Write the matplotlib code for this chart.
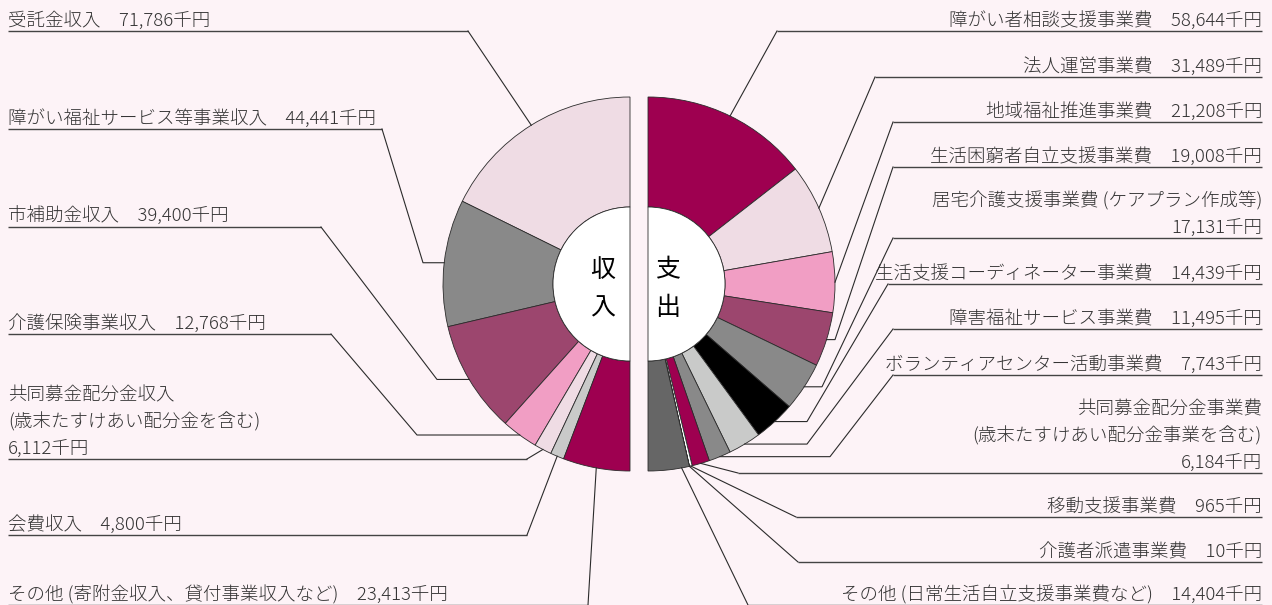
import matplotlib
matplotlib.use('Agg')
import matplotlib.pyplot as plt
from matplotlib.patches import Wedge
import numpy as np

plt.rcParams['font.family'] = ['Noto Sans CJK JP', 'DejaVu Sans']

# --- data (千円) ---
in_names = ['受託金収入', '障がい福祉サービス等事業収入', '市補助金収入', '介護保険事業収入',
            '共同募金配分金収入\n(歳末たすけあい配分金を含む)', '会費収入',
            'その他 (寄附金収入、貸付事業収入など)']
in_values = [71786, 44441, 39400, 12768, 6112, 4800, 23413]

out_names = ['障がい者相談支援事業費', '法人運営事業費', '地域福祉推進事業費',
             '生活困窮者自立支援事業費', '居宅介護支援事業費 (ケアプラン作成等)',
             '生活支援コーディネーター事業費', '障害福祉サービス事業費',
             'ボランティアセンター活動事業費',
             '共同募金配分金事業費\n(歳末たすけあい配分金事業を含む)',
             '移動支援事業費', '介護者派遣事業費', 'その他 (日常生活自立支援事業費など)']
out_values = [58644, 31489, 21208, 19008, 17131, 14439, 11495, 7743, 6184, 965, 10, 14404]

# --- style ---
BG = '#fdf3f7'
CRIMSON = '#9e0050'
LPINK = '#efdce4'
PINK = '#f19ec4'
MAUVE = '#9c466e'
GRAY = '#898989'
LGRAY = '#c9cac9'
DGRAY = '#666666'
in_colors = [LPINK, GRAY, MAUVE, PINK, LPINK, LGRAY, CRIMSON]
out_colors = [CRIMSON, LPINK, PINK, MAUVE, GRAY, 'black', LGRAY, GRAY, CRIMSON,
              'white', 'white', DGRAY]
TXT = '#333333'
LINE = '#2b2b2b'
R_OUT, R_IN = 187, 77
C_IN = (630, 284)
C_OUT = (648, 284)
LH = 27  # line height of labels in px

# layout: (underline y, x where underline meets leader, elbow x or None)
in_layout = [(31, 468, None), (129, 382, 423), (227, 321, 437), (334, 331, 417),
             (459, 527, None), (535, 527, None), (605, 588, None)]
in_wrap = [False, False, False, False, True, False, False]
out_layout = [(31, 777, None), (77, 875, None), (122, 893, None), (167, 893, 835),
              (238, 893, 822), (284, 888, 807), (329, 893, 807), (375, 893, 830),
              (473, 738, None), (517, 796, None), (562, 798, None), (605, 748, None)]
out_wrap = [False, False, False, False, True, False, False, False, True, False, False, False]
out_frac = [0.5] * 11 + [0.19]

fig = plt.figure(figsize=(12.72, 6.05), dpi=100, facecolor=BG)
ax = fig.add_axes([0, 0, 1, 1])
ax.set_facecolor(BG)


def half_donut(values, colors, center, counterclock):
    total = sum(values)
    wedges, _ = ax.pie(values + [total], colors=colors + ['none'], startangle=-90,
                       counterclock=counterclock, center=center, radius=R_OUT,
                       wedgeprops=dict(width=R_OUT - R_IN, edgecolor=LINE, linewidth=0.6))
    wedges[-1].set_visible(False)
    return wedges[:-1]


w_in = half_donut(in_values, in_colors, C_IN, False)
w_out = half_donut(out_values, out_colors, C_OUT, True)

ax.add_patch(Wedge(C_IN, R_IN, 90, 270, facecolor='white', edgecolor=LINE, lw=0.6))
ax.add_patch(Wedge(C_OUT, R_IN, -90, 90, facecolor='white', edgecolor=LINE, lw=0.6))

for s, x, y in [('収', 603, 270), ('入', 603, 308), ('支', 668, 270), ('出', 668, 308)]:
    ax.text(x, y, s, fontsize=18, ha='center', va='center', color='black')


def anchor(w, frac=0.5):
    a = np.deg2rad(w.theta1 + frac * (w.theta2 - w.theta1))
    return w.center[0] + R_OUT * np.cos(a), w.center[1] + R_OUT * np.sin(a)


def label_lines(name, value, wrap):
    amt = f'{value:,}千円'
    if wrap:
        return name.split('\n') + [amt]
    return [name + '\u3000' + amt]


def draw_labels(wedges, names, values, layout, wrap, fracs, side):
    for w, name, v, (uy, ux, ex), wr, fr in zip(wedges, names, values, layout, wrap, fracs):
        lines = label_lines(name, v, wr)
        tx = 8 if side == 'left' else 1262
        for i, s in enumerate(reversed(lines)):
            ax.text(tx, uy - 5 - i * LH, s, fontsize=13.3, color=TXT,
                    fontweight='light', ha=side, va='baseline')
        axp, ayp = anchor(w, fr)
        xs = [tx, ux]
        ys = [uy, uy]
        if ex is not None:
            xs.append(ex)
            ys.append(ayp)
        xs.append(axp)
        ys.append(ayp)
        ax.plot(xs[:2], ys[:2], color='#444444', lw=1.0, solid_capstyle='butt')
        ax.plot(xs[1:], ys[1:], color=LINE, lw=0.8)


draw_labels(w_in, in_names, in_values, in_layout, in_wrap, [0.5] * 7, 'left')
draw_labels(w_out, out_names, out_values, out_layout, out_wrap, out_frac, 'right')

ax.set_xlim(0, 1272)
ax.set_ylim(605, 0)
ax.set_aspect('auto')
ax.axis('off')

fig.savefig('out.png', dpi=100, facecolor=BG)
